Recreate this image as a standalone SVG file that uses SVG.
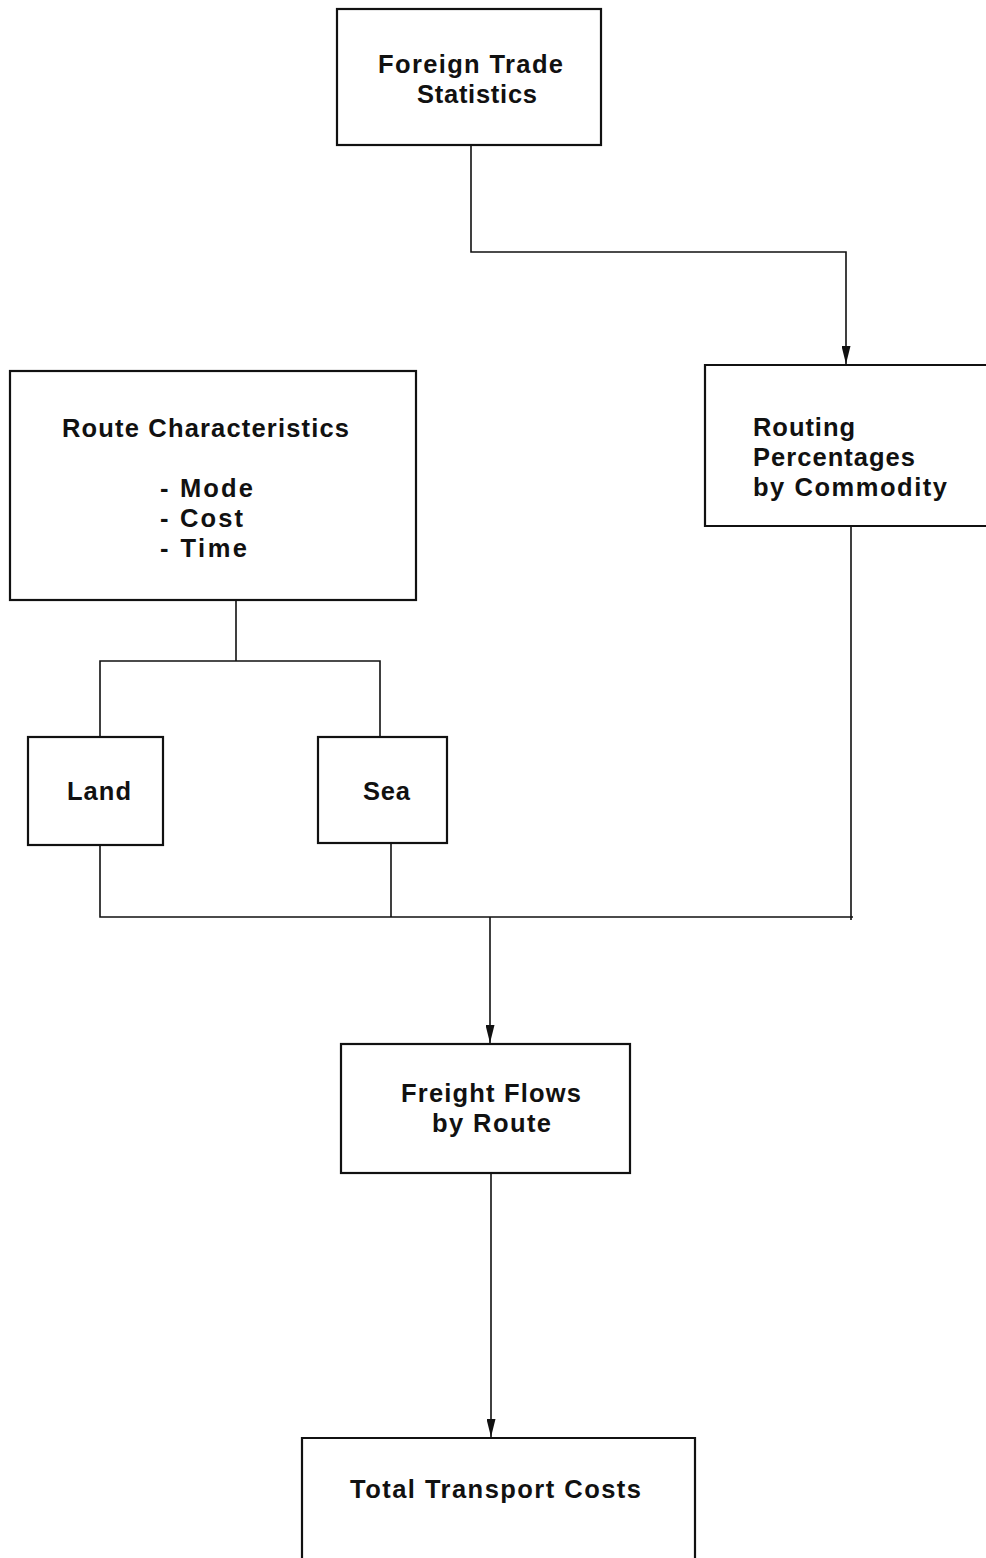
<svg xmlns="http://www.w3.org/2000/svg" width="986" height="1558" viewBox="0 0 986 1558">
<style>
.box{fill:none;stroke:#111;stroke-width:2.2}
.ln{fill:none;stroke:#111;stroke-width:1.6}
.t{font-family:"Liberation Sans",Arial,sans-serif;font-size:25.5px;font-weight:bold;fill:#111}
</style>
<defs>
<marker id="ah" markerWidth="18" markerHeight="9" refX="18" refY="4.5" orient="auto" markerUnits="userSpaceOnUse" viewBox="0 0 18 9">
<path d="M0,0 L18,4.5 L0,9 Z" fill="#111"/>
</marker>
</defs>
<rect width="986" height="1558" fill="#fff"/>
<g id="connectors">
<path class="ln" d="M471,145 V252 H846 V364" marker-end="url(#ah)"/>
<path class="ln" d="M236,600 V661 M100,737 V661 H380 V737"/>
<path class="ln" d="M100,845 V917 H853 M391,843 V917 M851,527 V920"/>
<path class="ln" d="M490,917 V1043" marker-end="url(#ah)"/>
<path class="ln" d="M491,1173 V1437" marker-end="url(#ah)"/>
</g>
<g id="foreign-trade">
<rect class="box" x="337" y="9" width="264" height="136"/>
<text class="t" x="378" y="73" textLength="185" lengthAdjust="spacing">Foreign Trade</text>
<text class="t" x="417" y="103" textLength="120" lengthAdjust="spacing">Statistics</text>
</g>
<g id="routing">
<path class="box" d="M986,365 H705 V526 H986"/>
<text class="t" x="753" y="436" textLength="102" lengthAdjust="spacing">Routing</text>
<text class="t" x="753" y="466" textLength="162" lengthAdjust="spacing">Percentages</text>
<text class="t" x="753" y="496" textLength="194" lengthAdjust="spacing">by Commodity</text>
</g>
<g id="route-characteristics">
<rect class="box" x="10" y="371" width="406" height="229"/>
<text class="t" x="62" y="437" textLength="287" lengthAdjust="spacing">Route Characteristics</text>
<text class="t" x="160" y="497" textLength="93" lengthAdjust="spacing">- Mode</text>
<text class="t" x="160" y="527" textLength="83" lengthAdjust="spacing">- Cost</text>
<text class="t" x="160" y="557" textLength="87" lengthAdjust="spacing">- Time</text>
</g>
<g id="land">
<rect class="box" x="28" y="737" width="135" height="108"/>
<text class="t" x="67" y="800" textLength="64" lengthAdjust="spacing">Land</text>
</g>
<g id="sea">
<rect class="box" x="318" y="737" width="129" height="106"/>
<text class="t" x="363" y="800" textLength="47" lengthAdjust="spacing">Sea</text>
</g>
<g id="freight-flows">
<rect class="box" x="341" y="1044" width="289" height="129"/>
<text class="t" x="401" y="1102" textLength="180" lengthAdjust="spacing">Freight Flows</text>
<text class="t" x="432" y="1132" textLength="119" lengthAdjust="spacing">by Route</text>
</g>
<g id="total-costs">
<path class="box" d="M302,1558 V1438 H695 V1558"/>
<text class="t" x="350" y="1498" textLength="291" lengthAdjust="spacing">Total Transport Costs</text>
</g>
</svg>
